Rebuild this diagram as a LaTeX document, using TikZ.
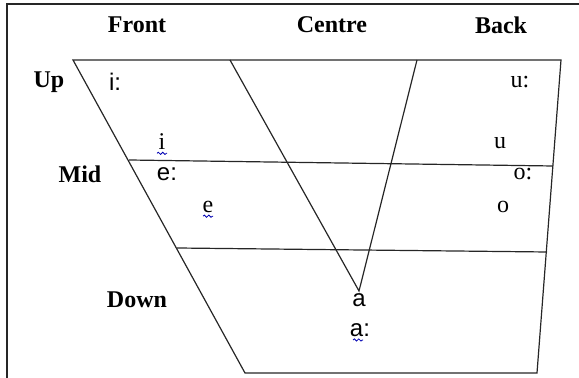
\documentclass[tikz,border=0pt]{standalone}
\usepackage{fontspec}
\setmainfont{Liberation Serif}
\newfontfamily\sansf{Liberation Sans}
\usetikzlibrary{decorations.pathmorphing}
\begin{document}
\begin{tikzpicture}[x=0.5pt,y=-0.5pt,
  ln/.style={line width=0.6pt,black!85},
  frame/.style={line width=1.1pt,black!85},
  head/.style={font=\fontsize{12}{14}\selectfont\bfseries,inner sep=0pt},
  vow/.style={font=\fontsize{12}{14}\selectfont,inner sep=0pt},
  svow/.style={font=\sansf\fontsize{12}{14}\selectfont,inner sep=0pt},
  squig/.style={blue!70!black,line width=0.4pt,decorate,decoration={snake,segment length=2.2pt,amplitude=0.55pt}}]
\useasboundingbox (0,0) rectangle (579,378);
% frame
\coordinate (fa) at (7,378);
\coordinate (fb) at (7,4);
\coordinate (fc) at (579,4);
\draw[frame] (fa) -- (fb) -- (fc);
% trapezoid
\coordinate (tl) at (73,60);
\coordinate (tr) at (561,60);
\coordinate (br) at (537,373);
\coordinate (bl) at (245,373);
\draw[ln] (tl) -- (tr) -- (br) -- (bl) -- cycle;
% horizontal lines
\coordinate (m1l) at (129,160);
\coordinate (m1r) at (553,166);
\coordinate (m2l) at (177,248);
\coordinate (m2r) at (547,252);
\draw[ln] (m1l) -- (m1r);
\draw[ln] (m2l) -- (m2r);
% central V
\coordinate (v1) at (230,60);
\coordinate (v2) at (417,60);
\coordinate (apex) at (359,291);
\draw[ln] (v1) -- (apex) -- (v2);
% headings
\node[head] (front) at (137,25) {Front};
\node[head] (centre) at (332,25) {Centre};
\node[head] (back) at (501,25) {Back};
\node[head] (up) at (49,82) {Up};
\node[head] (mid) at (80,174) {Mid};
\node[head] (down) at (137,300) {Down};
% vowels
\node[svow] (ilong) at (115,82) {i:};
\node[vow] (ulong) at (520,82) {u:};
\node[vow] (ishort) at (162,142) {i};
\node[vow] (ushort) at (500,143) {u};
\node[svow] (elong) at (167,174) {e:};
\node[vow] (olong) at (523,174) {o:};
\node[vow] (eshort) at (208,207) {e};
\node[vow] (oshort) at (503,207) {o};
\node[svow] (ashort) at (359,300) {a};
\node[svow] (along) at (360,330) {a:};
% spell-check squiggles
\draw[squig] ([xshift=-2.5pt,yshift=-1.5pt]ishort.south) -- ([xshift=2.5pt,yshift=-1.5pt]ishort.south);
\draw[squig] ([xshift=-2.5pt,yshift=-1.5pt]eshort.south) -- ([xshift=2.5pt,yshift=-1.5pt]eshort.south);
\draw[squig] ([xshift=-3.5pt,yshift=-1.5pt]along.south) -- ([xshift=1.5pt,yshift=-1.5pt]along.south);
\end{tikzpicture}
\end{document}
